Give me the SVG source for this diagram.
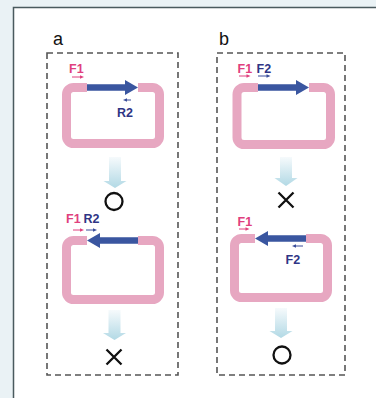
<svg xmlns="http://www.w3.org/2000/svg" width="376" height="398" viewBox="0 0 376 398">
<defs>
<linearGradient id="fade" x1="0" y1="0" x2="0" y2="1">
<stop offset="0" stop-color="#f6fafc"/>
<stop offset="1" stop-color="#b2d9e5"/>
</linearGradient>
<style>
.loop{fill:none;stroke:#e7a7c1;stroke-width:9}
.cover{fill:#ffffff}
.big{fill:#3a56a0}
.box{fill:none;stroke:#555;stroke-width:1.6;stroke-dasharray:6,4}
.lab{font-family:"Liberation Sans",Arial,sans-serif;font-size:18px;fill:#111}
.pf{font-family:"Liberation Sans",Arial,sans-serif;font-size:12.5px;font-weight:bold;fill:#e0407e}
.bf{font-family:"Liberation Sans",Arial,sans-serif;font-size:12.5px;font-weight:bold;fill:#2f3585}
.ps{stroke:#e0407e;stroke-width:1}
.bs{stroke:#3a4d9a;stroke-width:1}
.pa{fill:#e0407e}
.ba{fill:#3a4d9a}
.fade{fill:url(#fade)}
.res{fill:none;stroke:#111;stroke-width:2.3}
</style>
</defs>
<rect x="0" y="0" width="376" height="398" fill="#eaf2f5"/>
<rect x="13" y="7" width="363" height="391" fill="#ffffff"/>
<path d="M13.5,398 V7.5 H376" fill="none" stroke="#4a5a5e" stroke-width="1.5"/>

<text class="lab" x="53" y="45">a</text>
<text class="lab" x="219" y="45">b</text>
<rect class="box" x="47" y="53" width="131" height="322"/>
<rect class="box" x="217" y="53" width="128" height="322"/>

<g id="a1">
<rect class="loop" x="66.5" y="87.5" width="93" height="56" rx="7"/>
<rect class="cover" x="87" y="82" width="51" height="11"/>
<polygon class="big" points="87,84.2 125,84.2 125,80 138,87.5 125,95 125,90.8 87,90.8"/>
<text class="pf" x="69" y="73">F1</text>
<line class="ps" x1="72" y1="77" x2="81" y2="77"/><polygon class="pa" points="80,75.3 84,77 80,78.7"/>
<line class="bs" x1="126" y1="100" x2="131" y2="100"/><polygon class="ba" points="127,98.3 123,100 127,101.7"/>
<text class="bf" x="117" y="117">R2</text>
</g>

<g id="a2">
<rect class="loop" x="66.5" y="240.5" width="93" height="59" rx="7"/>
<rect class="cover" x="87" y="235" width="51" height="11"/>
<polygon class="big" points="138,237.2 100,237.2 100,233 87,240.5 100,248 100,243.8 138,243.8"/>
<text class="pf" x="66" y="223">F1</text>
<text class="bf" x="83.5" y="223">R2</text>
<line class="ps" x1="73" y1="230" x2="81" y2="230"/><polygon class="pa" points="80,228.3 84,230 80,231.7"/>
<line class="bs" x1="86" y1="230" x2="94" y2="230"/><polygon class="ba" points="93,228.3 97,230 93,231.7"/>
</g>

<g id="b1">
<rect class="loop" x="237" y="87.5" width="93.5" height="57" rx="7"/>
<rect class="cover" x="258" y="82" width="51" height="11"/>
<polygon class="big" points="258,84.2 296,84.2 296,80 309,87.5 296,95 296,90.8 258,90.8"/>
<text class="pf" x="237.5" y="73">F1</text>
<text class="bf" x="256.5" y="73">F2</text>
<line class="ps" x1="239" y1="76" x2="247" y2="76"/><polygon class="pa" points="246.5,74.3 250.5,76 246.5,77.7"/>
<line class="bs" x1="258" y1="76" x2="267" y2="76"/><polygon class="ba" points="266.5,74.3 270.5,76 266.5,77.7"/>
</g>

<g id="b2">
<rect class="loop" x="234.5" y="238.5" width="93" height="59" rx="7"/>
<rect class="cover" x="255" y="233" width="51" height="11"/>
<polygon class="big" points="306,235.2 268,235.2 268,231 255,238.5 268,246 268,241.8 306,241.8"/>
<text class="pf" x="237.5" y="226">F1</text>
<line class="ps" x1="239" y1="229" x2="246" y2="229"/><polygon class="pa" points="245.5,227.3 249.5,229 245.5,230.7"/>
<line class="bs" x1="296" y1="246" x2="303" y2="246"/><polygon class="ba" points="296,244.3 292,246 296,247.7"/>
<text class="bf" x="285.5" y="264">F2</text>
</g>

<g id="results">
<circle class="res" cx="114" cy="201.5" r="8.5"/>
<path class="res" d="M106.5,349.5 L121.5,364.5 M121.5,349.5 L106.5,364.5"/>
<path class="res" d="M278.5,192.5 L293.5,207.5 M293.5,192.5 L278.5,207.5"/>
<circle class="res" cx="282" cy="355" r="8.5"/>
</g>

<g id="connectors">
<polygon class="fade" points="109,157 121,157 121,181 126.5,181 115,188 103.5,181 109,181"/>
<polygon class="fade" points="108.5,310 120.5,310 120.5,333 126,333 114.5,340 103,333 108.5,333"/>
<polygon class="fade" points="280,157 292,157 292,178 297.5,178 286,186 274.5,178 280,178"/>
<polygon class="fade" points="275,308 287,308 287,331 292.5,331 281,338 269.5,331 275,331"/>
</g>
</svg>
